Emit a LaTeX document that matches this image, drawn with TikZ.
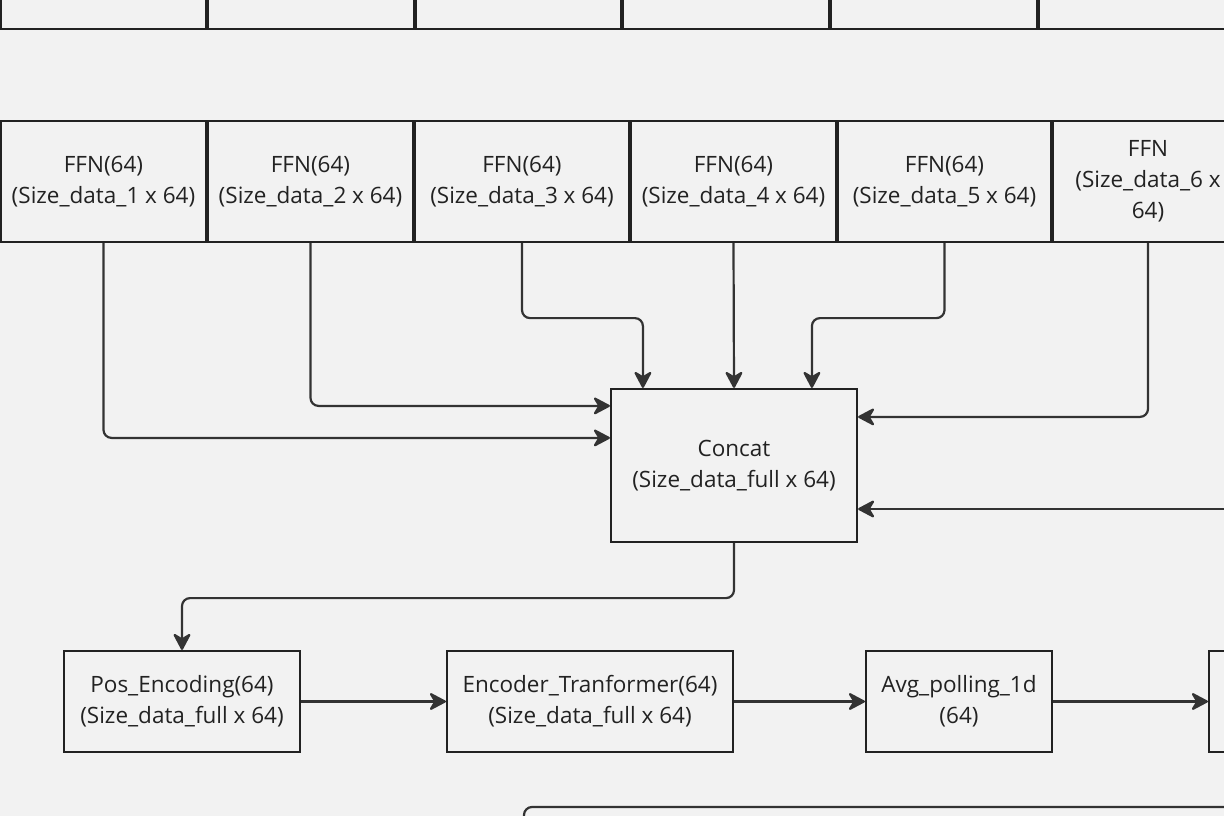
\documentclass[tikz,border=0pt]{standalone}
\usepackage{fontspec}
\setmainfont{Open Sans}
\usetikzlibrary{arrows.meta,calc}
\definecolor{bg}{HTML}{F2F2F2}
\definecolor{ln}{HTML}{333333}
\definecolor{bd}{HTML}{222222}
\definecolor{tx}{HTML}{222222}
\tikzset{
  blk/.style={draw=bd, line width=2.2pt, rectangle, inner sep=0pt, align=center, text=tx,
    font=\fontsize{22.5}{31}\selectfont},
  conn/.style={draw=ln, line width=2.2pt, rounded corners=8pt,
    -{Stealth[length=19pt,width=20pt,inset=6pt,round]}},
  plain/.style={draw=ln, line width=2.2pt, rounded corners=8pt}
}
\begin{document}
\begin{tikzpicture}[x=1pt,y=-1pt]
\fill[bg] (0,0) rectangle (1224,816);
\useasboundingbox (0,0) rectangle (1224,816);
\clip (0,0) rectangle (1224,816);
% top row (cut off)
\node[blk, minimum width=205pt, minimum height=119pt] (t1) at (103.5,-30.5) {};
\node[blk, minimum width=206pt, minimum height=119pt] (t2) at (311,-30.5) {};
\node[blk, minimum width=205pt, minimum height=119pt] (t3) at (518.5,-30.5) {};
\node[blk, minimum width=206pt, minimum height=119pt] (t4) at (726,-30.5) {};
\node[blk, minimum width=206pt, minimum height=119pt] (t5) at (934,-30.5) {};
\node[blk, minimum width=206pt, minimum height=119pt] (t6) at (1142,-30.5) {};
% FFN row
\node[blk, minimum width=205pt, minimum height=121pt] (f1) at (103.5,181.5) {FFN(64)\\(Size\_data\_1 x 64)};
\node[blk, minimum width=205pt, minimum height=121pt] (f2) at (310.5,181.5) {FFN(64)\\(Size\_data\_2 x 64)};
\node[blk, minimum width=214pt, minimum height=121pt] (f3) at (522,181.5) {FFN(64)\\(Size\_data\_3 x 64)};
\node[blk, minimum width=205pt, minimum height=121pt] (f4) at (733.5,181.5) {FFN(64)\\(Size\_data\_4 x 64)};
\node[blk, minimum width=213pt, minimum height=121pt] (f5) at (944.5,181.5) {FFN(64)\\(Size\_data\_5 x 64)};
\node[blk, minimum width=190pt, minimum height=121pt] (f6) at (1148,181.5) {FFN\\(Size\_data\_6 x\\64)};
% Concat
\node[blk, minimum width=246pt, minimum height=153pt] (concat) at (734,465.5) {Concat\\(Size\_data\_full x 64)};
% bottom row
\node[blk, minimum width=236pt, minimum height=101pt] (pos) at (182,701.5) {Pos\_Encoding(64)\\(Size\_data\_full x 64)};
\node[blk, minimum width=286pt, minimum height=101pt] (enc) at (590,701.5) {Encoder\_Tranformer(64)\\(Size\_data\_full x 64)};
\node[blk, minimum width=186pt, minimum height=101pt] (avg) at (959,701.5) {Avg\_polling\_1d\\(64)};
\node[blk, minimum width=190pt, minimum height=101pt] (nxt) at (1304,701.5) {};
% connectors
\draw[conn] (f1.south) |- ($(concat.north west)+(0,50)$);
\draw[conn] (f2.south) |- ($(concat.north west)+(0,18)$);
\draw[conn] (f3.south) -- ++(0,75) -| ($(concat.north west)+(33,0)$);
\draw[conn] (f4.south) -- (concat.north);
\draw[conn] (f5.south) -- ++(0,75) -| ($(concat.north west)+(202,0)$);
\draw[conn] (f6.south) |- ($(concat.north east)+(0,29)$);
\coordinate (rin) at (1250,509);
\draw[conn] (rin) -- (concat.east |- rin);
\draw[conn] (concat.south) -- ++(0,55) -| (pos.north);
\draw[conn] (pos.east) -- (enc.west);
\draw[conn] (enc.east) -- (avg.west);
\draw[conn] (avg.east) -- (nxt.west);
\coordinate (b1) at (1250,807);
\coordinate (b2) at (524,840);
\draw[plain] (b1) -| (b2);
\end{tikzpicture}
\end{document}
